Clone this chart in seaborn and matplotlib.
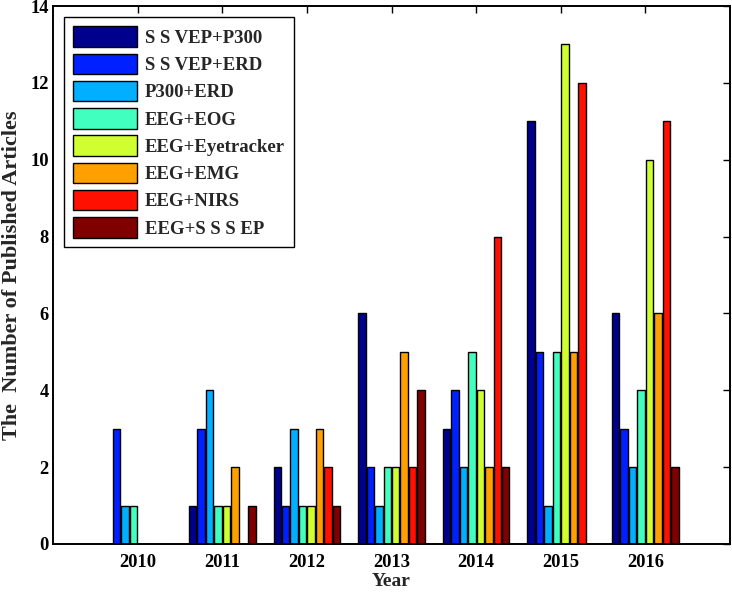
import numpy as np
import pandas as pd
import matplotlib
matplotlib.use("Agg")
import matplotlib.pyplot as plt
import seaborn as sns

years = ["2010", "2011", "2012", "2013", "2014", "2015", "2016"]
series = ["SSVEP+P300", "SSVEP+ERD", "P300+ERD", "EEG+EOG",
          "EEG+Eyetracker", "EEG+EMG", "EEG+NIRS", "EEG+SSSEP"]
legend_labels = ["S S VEP+P300", "S S VEP+ERD", "P300+ERD", "EEG+EOG",
                 "EEG+Eyetracker", "EEG+EMG", "EEG+NIRS", "EEG+S S S EP"]

ssvep_p300 = [0, 1, 2, 6, 3, 11, 6]
ssvep_erd = [3, 3, 1, 2, 4, 5, 3]
p300_erd = [1, 4, 3, 1, 2, 1, 2]
eeg_eog = [1, 1, 1, 2, 5, 5, 4]
eeg_eyetracker = [0, 1, 1, 2, 4, 13, 10]
eeg_emg = [0, 2, 3, 5, 2, 5, 6]
eeg_nirs = [0, 0, 2, 2, 8, 12, 11]
eeg_sssep = [0, 1, 1, 4, 2, 0, 2]

values = [ssvep_p300, ssvep_erd, p300_erd, eeg_eog,
          eeg_eyetracker, eeg_emg, eeg_nirs, eeg_sssep]

# MATLAB jet(64) rows 1,10,19,28,37,46,55,64
colors = [(0.0, 0.0, 0.5625), (0.0, 0.125, 1.0), (0.0, 0.6875, 1.0),
          (0.25, 1.0, 0.75), (0.8125, 1.0, 0.1875), (1.0, 0.625, 0.0),
          (1.0, 0.0625, 0.0), (0.5, 0.0, 0.0)]

rows = []
for s, vals in zip(series, values):
    for y, v in zip(years, vals):
        rows.append({"Year": y, "Series": s, "Count": v})
df = pd.DataFrame(rows)

sns.set_style("white")
plt.rcParams["font.family"] = ["Liberation Serif", "DejaVu Serif"]
plt.rcParams["font.weight"] = "bold"

fig = plt.figure(figsize=(7.32, 5.94), dpi=100)
ax = fig.add_axes([53/732, 1-544/594, 677/732, 538/594])

sns.barplot(data=df, x="Year", y="Count", hue="Series", order=years,
            hue_order=series, palette=colors, width=0.8, gap=0.12,
            edgecolor="black", linewidth=1.0, saturation=1, ax=ax,
            legend=True)

ax.set_xlim(-1, 7)
ax.set_ylim(0, 14)
ax.set_yticks(np.arange(0, 15, 2))
ax.set_xticks(range(len(years)))
ax.set_xticklabels(years)
for sp in ax.spines.values():
    sp.set_visible(True)
    sp.set_color("black")
    sp.set_linewidth(1.4)
ax.tick_params(axis="both", direction="in", length=5, width=1,
               top=True, right=True, labelsize=13.3, colors="black")
ax.tick_params(axis="x", pad=7)
ax.tick_params(axis="y", pad=3)
for lab in ax.get_xticklabels() + ax.get_yticklabels():
    lab.set_fontweight("bold")

ax.set_xlabel("Year", fontsize=14, fontweight="bold", labelpad=2)
ax.set_ylabel("The  Number of Published Articles", fontsize=16,
              fontweight="bold", labelpad=6)

handles, _ = ax.get_legend_handles_labels()
leg = ax.legend(handles, legend_labels, loc="upper left",
                bbox_to_anchor=(11/677, 1 - 11/538), borderaxespad=0,
                fancybox=False, edgecolor="black", framealpha=1,
                prop={"family": "Liberation Serif", "weight": "bold", "size": 13.5},
                handlelength=3.4, handleheight=1.3, handletextpad=0.4,
                labelspacing=0.36, borderpad=0.5)
leg.get_frame().set_linewidth(1.0)

fig.savefig("out.png", dpi=100)
